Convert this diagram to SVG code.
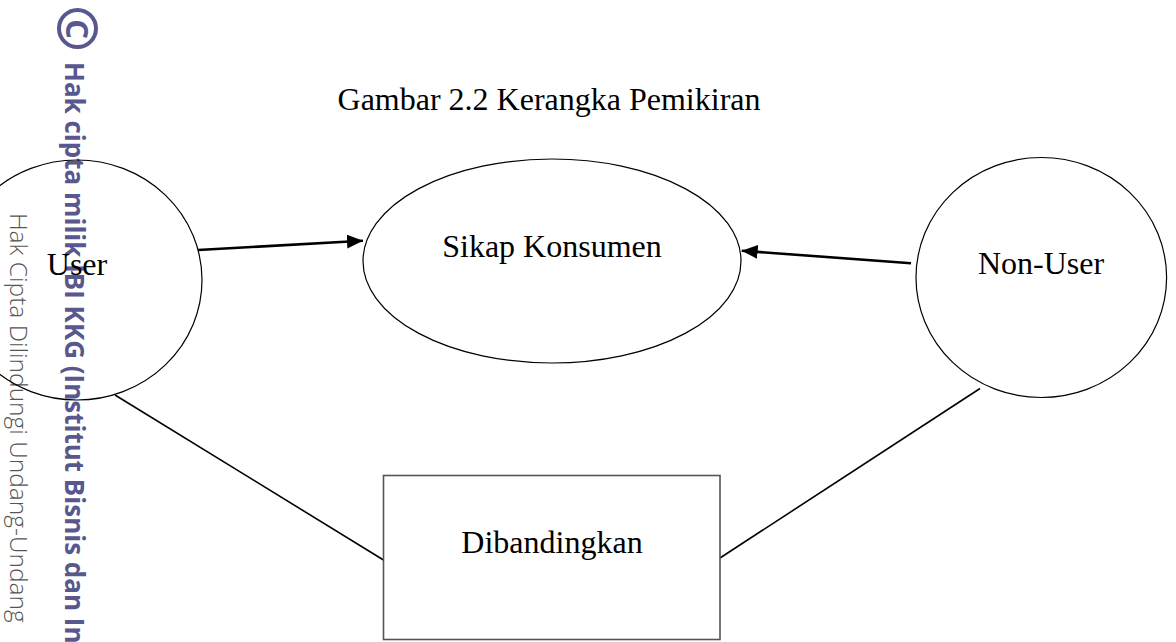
<svg xmlns="http://www.w3.org/2000/svg" width="1176" height="642" viewBox="0 0 1176 642">
<style>
.shape{fill:none;stroke:#000;stroke-width:1.2}
.lbl{font-family:"Liberation Serif","Times New Roman",serif;font-size:32px;fill:#000;text-anchor:middle}
.conn{stroke:#000;fill:none}
.wm{fill:#58588e;font-family:"Open Sans","Noto Sans",sans-serif;font-weight:700}
.wm-grey{font-family:"Open Sans","Noto Sans",sans-serif;font-weight:300;font-size:24.5px;fill:#555}
</style>
<defs>
<marker id="ah" viewBox="0 0 16 14" refX="16" refY="7" markerWidth="16" markerHeight="14" markerUnits="userSpaceOnUse" orient="auto">
<path d="M0,0 L16,7 L0,14 Z" fill="#000"/>
</marker>
</defs>
<rect width="1176" height="642" fill="#fff"/>

<g id="watermark">
<circle cx="77.5" cy="28.5" r="18.5" fill="none" stroke="#58588e" stroke-width="4"/>
<text class="wm" transform="translate(66,29) rotate(90)" font-size="31" text-anchor="middle">C</text>
<text class="wm" transform="translate(65,62) rotate(90)" font-size="26">Hak cipta milik IBI KKG (Institut Bisnis dan In</text>
<text class="wm-grey" transform="translate(10,213) rotate(90)">Hak Cipta Dilindungi Undang-Undang</text>
</g>

<text id="title" class="lbl" x="549" y="110">Gambar 2.2 Kerangka Pemikiran</text>

<g id="connectors">
<line class="conn" x1="198" y1="250" x2="363" y2="240.7" stroke-width="2.6" marker-end="url(#ah)"/>
<line class="conn" x1="911" y1="263.3" x2="741.7" y2="250.7" stroke-width="2.6" marker-end="url(#ah)"/>
<line class="conn" x1="115" y1="395" x2="383.5" y2="560" stroke-width="1.6"/>
<line class="conn" x1="980" y1="388.5" x2="720" y2="558" stroke-width="1.6"/>
</g>

<g id="node-user">
<ellipse class="shape" cx="77" cy="280" rx="125" ry="120"/>
<text class="lbl" x="77" y="275">User</text>
</g>
<g id="node-sikap">
<ellipse class="shape" cx="552" cy="261" rx="189" ry="102"/>
<text class="lbl" x="552" y="257">Sikap Konsumen</text>
</g>
<g id="node-nonuser">
<ellipse class="shape" cx="1041.3" cy="277.5" rx="125.3" ry="120"/>
<text class="lbl" x="1041" y="273.5">Non-User</text>
</g>
<g id="node-dibandingkan">
<rect x="383.5" y="475.5" width="336.5" height="164" fill="none" stroke="#555" stroke-width="1.6"/>
<text class="lbl" x="552" y="553">Dibandingkan</text>
</g>
</svg>
